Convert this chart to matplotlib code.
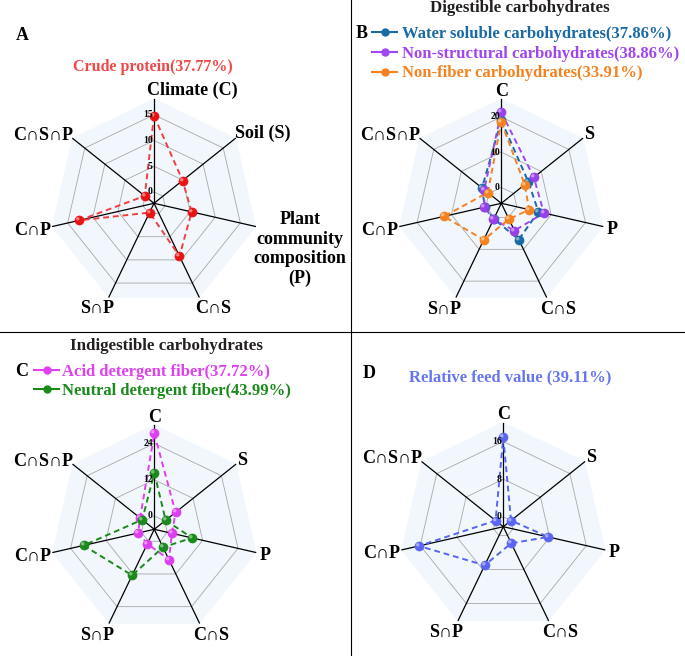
import numpy as np
import matplotlib
matplotlib.use("Agg")
import matplotlib.pyplot as plt
from matplotlib.lines import Line2D
from matplotlib.path import Path

plt.rcParams['font.family'] = ['Liberation Serif', 'DejaVu Serif']
plt.rcParams['font.weight'] = 'bold'

W, H = 685, 656

# Axis order (clockwise from top)
short_labels = ['C', 'S', 'P', 'C∩S', 'S∩P', 'C∩P', 'C∩S∩P']

# Panel A - crude protein
cp_vals = [14.8, 4.9, 5.3, 9.2, -0.2, 12.7, 0.1]

# Panel B - digestible carbohydrates
wsc_vals = [19.0, 5.3, 6.3, 6.9, 0.4, 0.3, 2.5]
nsc_vals = [21.3, 7.3, 7.9, 4.1, 0.6, 0.4, 1.7]
nfc_vals = [18.5, 4.0, 3.6, 0.5, 7.0, 12.2, 0.4]

# Panel C - indigestible carbohydrates
adf_vals = [27.3, 4.6, 1.6, 6.7, 0.9, 1.1, 1.6]
ndf_vals = [14.3, 0.4, 8.4, 2.2, 12.5, 19.6, 0.7]

# Panel D - relative feed value
rfv_vals = [16.9, 0.0, 7.7, 1.8, 7.0, 16.3, 0.0]

fig = plt.figure(figsize=(W / 100, H / 100), dpi=100)

R_PX = 104
angles = np.arange(7) * 2 * np.pi / 7
ang_closed = np.append(angles, angles[0])

# small off-centre disc used as the shine on the glossy markers
_t = np.linspace(0, 2 * np.pi, 30)
shine = Path(np.column_stack([-0.3 + 0.3 * np.cos(_t), 0.3 + 0.3 * np.sin(_t)]))


def fx(x):
    return x / W


def fy(y):
    return 1 - y / H


def radar(cx, cy, rmin, rmax, ticks):
    ax = fig.add_axes([fx(cx - R_PX), fy(cy + R_PX), 2 * R_PX / W, 2 * R_PX / H],
                      projection='polar')
    ax.set_theta_offset(np.pi / 2)
    ax.set_theta_direction(-1)
    ax.set_rlim(rmin, rmax)
    ax.grid(False)
    ax.set_xticks([])
    ax.set_yticks([])
    ax.spines['polar'].set_visible(False)
    ax.patch.set_visible(False)
    ax.fill(ang_closed, [rmax] * 8, color='#f1f7fc', zorder=0)
    for t in ticks:
        ax.plot(ang_closed, [t] * 8, color='#a8a8a8', lw=0.6, zorder=1)
        ax.annotate(str(t), (0, t), xytext=(-1, 0), textcoords='offset points',
                    ha='right', va='center', fontsize=7, zorder=5)
    for a in angles:
        ax.plot([a, a], [rmin, rmax], color='black', lw=0.9, zorder=2, clip_on=False)
    return ax


def series(ax, vals, color, mcolor):
    v = np.append(vals, vals[0])
    ax.plot(ang_closed, v, color=color, lw=1.4, ls=(0, (3, 2)), zorder=3, clip_on=False)
    ax.plot(angles, vals, ls='none', marker='o', ms=6.5, mfc=mcolor, mec=mcolor,
            mew=0.5, zorder=4, clip_on=False)
    ax.plot(angles, vals, ls='none', marker=shine, ms=5, mfc='white', mec='none',
            alpha=0.45, zorder=4, clip_on=False)


def axis_labels(cx, cy, offsets, labels):
    for (dx, dy), lab in zip(offsets, labels):
        fig.text(fx(cx + dx), fy(cy + dy), lab, ha='center', va='center', fontsize=13)


std_offsets = [(0, -112), (88, -69), (111, 26), (57, 106), (-57, 106), (-122, 27), (-111, -68)]

# ---- Panel A
axA = radar(154, 203.3, -2.2, 18, [0, 5, 10, 15])
series(axA, cp_vals, '#f04040', '#e81414')
fig.text(fx(22), fy(35), 'A', fontsize=13, ha='center', va='center')
fig.text(fx(153), fy(67), 'Crude protein(37.77%)', color='#f04848', fontsize=11.5,
         ha='center', va='center')
a_offsets = [(38, -113), (109, -70), (146, 46), (59, 105), (-57, 105), (-121, 27), (-111, -68)]
a_labels = ['Climate (C)', 'Soil (S)', 'Plant\ncommunity\ncomposition\n(P)',
            'C∩S', 'S∩P', 'C∩P', 'C∩S∩P']
axis_labels(154, 203.3, a_offsets, a_labels)

# ---- Panel B
axB = radar(501.3, 203.3, -4.5, 25, [0, 10, 20])
series(axB, wsc_vals, '#1a6aa6', '#1a6aa6')
series(axB, nsc_vals, '#a046f0', '#9a40ea')
series(axB, nfc_vals, '#f5821f', '#f5821f')
axis_labels(501.3, 203.3, std_offsets, short_labels)
fig.text(fx(520), fy(8), 'Digestible carbohydrates', fontsize=12.2, color='#231f20',
         ha='center', va='center')
fig.text(fx(362), fy(33), 'B', fontsize=13, ha='center', va='center')
hB = [Line2D([], [], color=c, marker='o', ms=5, lw=1.5) for c in ['#1a6aa6', '#a046f0', '#f5821f']]
labB = ['Water soluble carbohydrates(37.86%)', 'Non-structural carbohydrates(38.86%)',
        'Non-fiber carbohydrates(33.91%)']
legB = fig.legend(hB, labB, loc='upper left', bbox_to_anchor=(fx(372), fy(26)),
                  frameon=False, handlelength=1.5, handletextpad=0.3, labelspacing=0.22,
                  borderaxespad=0, borderpad=0, prop={'size': 12, 'weight': 'bold'})
for t, c in zip(legB.get_texts(), ['#1a6aa6', '#a046f0', '#f5821f']):
    t.set_color(c)

# ---- Panel C
axC = radar(154.3, 529.3, -4.4, 30, [0, 12, 24])
series(axC, adf_vals, '#e040f0', '#dc3ef0')
series(axC, ndf_vals, '#1a8a1a', '#1a8a1a')
axis_labels(154.3, 529.3, std_offsets, short_labels)
fig.text(fx(166), fy(346), 'Indigestible carbohydrates', fontsize=12.2, color='#231f20',
         ha='center', va='center')
fig.text(fx(22), fy(371), 'C', fontsize=13, ha='center', va='center')
hC = [Line2D([], [], color=c, marker='o', ms=5, lw=1.5) for c in ['#e040f0', '#1a8a1a']]
labC = ['Acid detergent fiber(37.72%)', 'Neutral detergent fiber(43.99%)']
legC = fig.legend(hC, labC, loc='upper left', bbox_to_anchor=(fx(34), fy(364)),
                  frameon=False, handlelength=1.5, handletextpad=0.2, labelspacing=0.15,
                  borderaxespad=0, borderpad=0, prop={'size': 12, 'weight': 'bold'})
for t, c in zip(legC.get_texts(), ['#e040f0', '#1a8a1a']):
    t.set_color(c)

# ---- Panel D
axD = radar(503.3, 526.7, -2.1, 20, [0, 8, 16])
series(axD, rfv_vals, '#5566ee', '#5a66f2')
axis_labels(503.3, 526.7, std_offsets, short_labels)
fig.text(fx(369), fy(373), 'D', fontsize=13, ha='center', va='center')
fig.text(fx(510), fy(377), 'Relative feed value (39.11%)', color='#6676f0', fontsize=12,
         ha='center', va='center')

# panel dividers
fig.add_artist(Line2D([0, 1], [fy(332), fy(332)], color='black', lw=0.8))
fig.add_artist(Line2D([fx(351), fx(351)], [0, 1], color='black', lw=0.8))

fig.savefig('out.png', dpi=100)
